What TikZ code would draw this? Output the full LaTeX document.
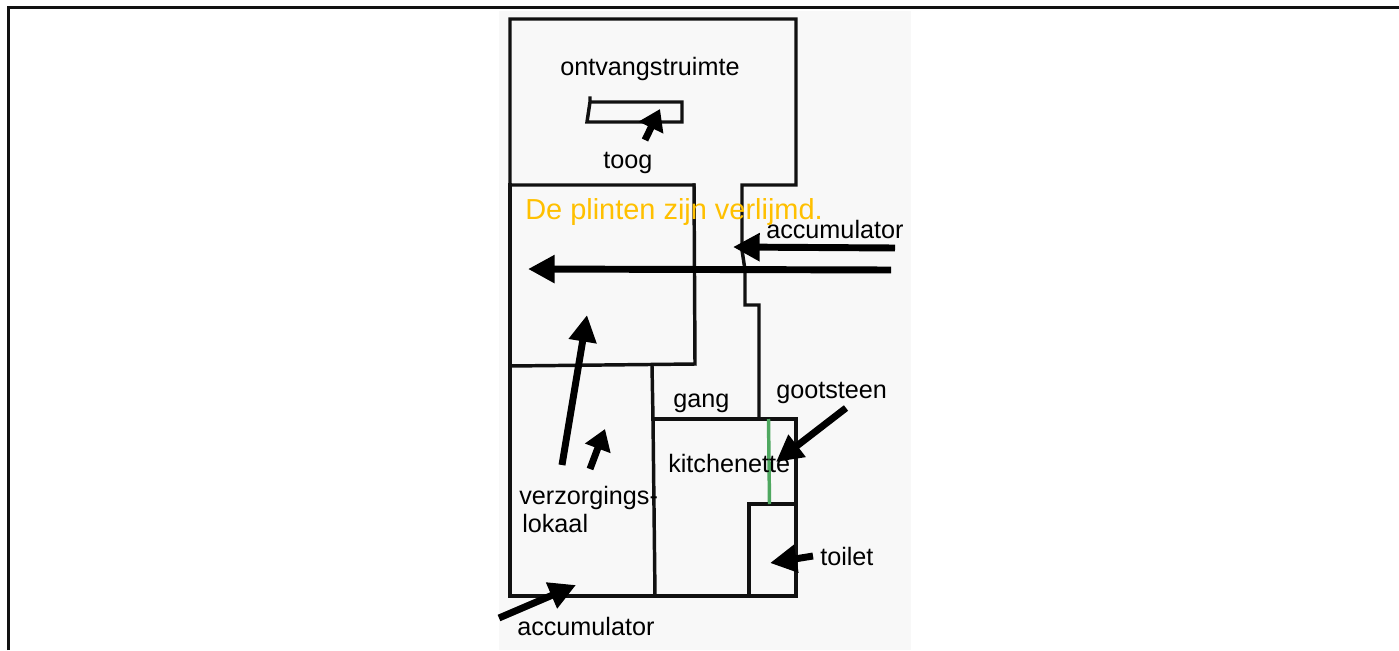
\documentclass[tikz,border=0pt]{standalone}
\usepackage{fontspec}
\setmainfont{Liberation Sans}
\usetikzlibrary{arrows.meta}
\definecolor{paper}{HTML}{F8F8F8}
\definecolor{wallc}{HTML}{111111}
\definecolor{sinkg}{HTML}{4FA860}
\definecolor{ambertxt}{HTML}{FFC000}
\tikzset{
  wall/.style={draw=wallc,line width=2.6pt,line cap=rect,line join=miter},
  pointer/.style={draw=black,line width=5.2pt,-{Triangle[length=20pt,width=20pt]}},
  shortpointer/.style={draw=black,line width=5.2pt,-{Triangle[length=15.5pt,width=19.5pt]}},
  lbl/.style={inner sep=0pt,anchor=base west,font=\fontsize{18.9pt}{22pt}\selectfont,text=black},
  note/.style={inner sep=0pt,anchor=base west,font=\fontsize{21.7pt}{26pt}\selectfont,text=ambertxt}
}
\begin{document}
\begin{tikzpicture}[x=0.75pt,y=-0.75pt]
\useasboundingbox (0,0) rectangle (1399,650);
\fill[white] (0,0) rectangle (1399,650);
\draw[line width=2.4pt,draw=wallc] (8.5,650) -- (8.5,7.5) -- (1399,7.5);
\fill[paper] (499,11) rectangle (911,650);
% walls
\draw[wall] (694,185) -- (510,185) -- (510,19) -- (796,19) -- (796,185) -- (742,185) -- (742,250) -- (745,270) -- (745,305) -- (759,305) -- (759,419);
\draw[wall] (510,185) -- (510,596) -- (796,596) -- (796,419) -- (653,419);
\draw[wall] (694,185) -- (695,364) -- (510,366);
\draw[wall] (652,366) -- (653,419) -- (655,596);
\draw[wall] (796,504) -- (749,504) -- (749,596);
\draw[draw=sinkg,line width=2.6pt] (768.5,419) -- (769.5,504);
\draw[wall] (590,98) -- (590,102) -- (682,102) -- (682,122) -- (587,122) -- (590,102);
% anchors of the pointers
\coordinate (t1) at (645,140); \coordinate (h1) at (660,109);
\coordinate (t2) at (895,248); \coordinate (h2) at (733,247);
\coordinate (t3) at (891,270); \coordinate (h3) at (528,269);
\coordinate (t4) at (562,465); \coordinate (h4) at (587,315);
\coordinate (t5) at (590,469); \coordinate (h5) at (605,429);
\coordinate (t6) at (846,408); \coordinate (h6) at (776,462);
\coordinate (t7) at (813,556); \coordinate (h7) at (770,563);
\coordinate (t8) at (499,618); \coordinate (h8) at (576,585);
\draw[shortpointer] (t1) -- (h1);
\draw[pointer] (t2) -- (h2);
\draw[pointer] (t3) -- (h3);
\draw[pointer] (t4) -- (h4);
\draw[shortpointer] (t5) -- (h5);
\draw[pointer] (t6) -- (h6);
\draw[pointer] (t7) -- (h7);
\draw[pointer] (t8) -- (h8);
% labels
\node[lbl] (ontvangst) at (560,75) {ontvangstruimte};
\node[lbl] (toog) at (603,168) {toog};
\node[lbl] (acc1) at (766,238) {accumulator};
\node[lbl] (gang) at (673,407) {gang};
\node[lbl] (gootsteen) at (776,398) {gootsteen};
\node[lbl] (kitchen) at (668,472) {kitchenette};
\node[lbl] (verz) at (519,504) {verzorgings-};
\node[lbl] (lokaal) at (522,532) {lokaal};
\node[lbl] (toilet) at (820,565) {toilet};
\node[lbl] (acc2) at (517,635) {accumulator};
\node[note] (plinten) at (525,219) {De plinten zijn verlijmd.};
\end{tikzpicture}
\end{document}
